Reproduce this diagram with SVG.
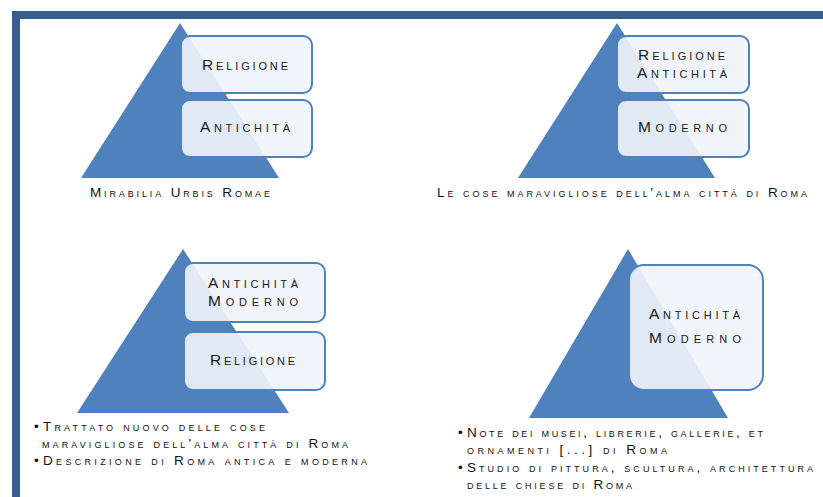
<svg xmlns="http://www.w3.org/2000/svg" width="823" height="497" viewBox="0 0 823 497">
<style>
.bar{fill:#365F91}
.tri{fill:#4F81BD}
.box{fill:#F0F4FA;fill-opacity:0.9;stroke:#4F81BD;stroke-width:2}
.lbl{font-family:"Liberation Sans",Arial,sans-serif;font-size:15.5px;font-variant:small-caps;fill:#1a1a1a}
.cap{font-family:"Liberation Sans",Arial,sans-serif;font-size:13.5px;font-variant:small-caps;fill:#111}
</style>
<rect width="823" height="497" fill="#fff"/>
<g id="frame">
<rect class="bar" x="12" y="11" width="811" height="8"/>
<rect class="bar" x="12" y="11" width="8" height="486"/>
</g>
<g id="connectors"></g>
<g id="panel1">
<polygon class="tri" points="180,23 81,178 279,178"/>
<g id="p1-religione"><rect class="box" x="181" y="36" width="131" height="57" rx="9"/>
<text class="lbl" x="202" y="70" textLength="86" lengthAdjust="spacing">Religione</text></g>
<g id="p1-antichita"><rect class="box" x="181" y="100" width="131" height="57" rx="9"/>
<text class="lbl" x="200" y="132" textLength="90" lengthAdjust="spacing">Antichità</text></g>
<text class="cap" x="90" y="197" textLength="180" lengthAdjust="spacing">Mirabilia Urbis Romae</text>
</g>
<g id="panel2">
<polygon class="tri" points="617,23 518,178 715,178"/>
<g id="p2-top"><rect class="box" x="617" y="36" width="132" height="57" rx="9"/>
<text class="lbl" x="638" y="60" textLength="87" lengthAdjust="spacing">Religione</text>
<text class="lbl" x="637" y="78" textLength="90" lengthAdjust="spacing">Antichità</text></g>
<g id="p2-moderno"><rect class="box" x="617" y="100" width="132" height="57" rx="9"/>
<text class="lbl" x="638" y="132" textLength="89" lengthAdjust="spacing">Moderno</text></g>
<text class="cap" x="437" y="197" textLength="370" lengthAdjust="spacing">Le cose maravigliose dell'alma città di Roma</text>
</g>
<g id="panel3">
<polygon class="tri" points="183,249 77,413 289,413"/>
<g id="p3-top"><rect class="box" x="184" y="263" width="141" height="59" rx="9"/>
<text class="lbl" x="208" y="288" textLength="90" lengthAdjust="spacing">Antichità</text>
<text class="lbl" x="208" y="306" textLength="90" lengthAdjust="spacing">Moderno</text></g>
<g id="p3-religione"><rect class="box" x="184" y="332" width="141" height="58" rx="9"/>
<text class="lbl" x="210" y="365" textLength="85" lengthAdjust="spacing">Religione</text></g>
<text class="cap" x="34" y="431">•</text>
<text class="cap" x="43" y="431" textLength="222" lengthAdjust="spacing">Trattato nuovo delle cose</text>
<text class="cap" x="42" y="448" textLength="306" lengthAdjust="spacing">maravigliose dell'alma città di Roma</text>
<text class="cap" x="34" y="465">•</text>
<text class="cap" x="43" y="465" textLength="324" lengthAdjust="spacing">Descrizione di Roma antica e moderna</text>
</g>
<g id="panel4">
<polygon class="tri" points="628,249 529,418 728,418"/>
<g id="p4-box"><rect class="box" x="629" y="265" width="134" height="125" rx="15"/>
<text class="lbl" x="649" y="319" textLength="91" lengthAdjust="spacing">Antichità</text>
<text class="lbl" x="649" y="343" textLength="92" lengthAdjust="spacing">Moderno</text></g>
<text class="cap" x="458" y="437">•</text>
<text class="cap" x="467" y="437" textLength="296" lengthAdjust="spacing">Note dei musei, librerie, gallerie, et</text>
<text class="cap" x="467" y="454" textLength="200" lengthAdjust="spacing">ornamenti [...] di Roma</text>
<text class="cap" x="458" y="472">•</text>
<text class="cap" x="467" y="472" textLength="346" lengthAdjust="spacing">Studio di pittura, scultura, architettura</text>
<text class="cap" x="467" y="489" textLength="165" lengthAdjust="spacing">delle chiese di Roma</text>
</g>
</svg>
